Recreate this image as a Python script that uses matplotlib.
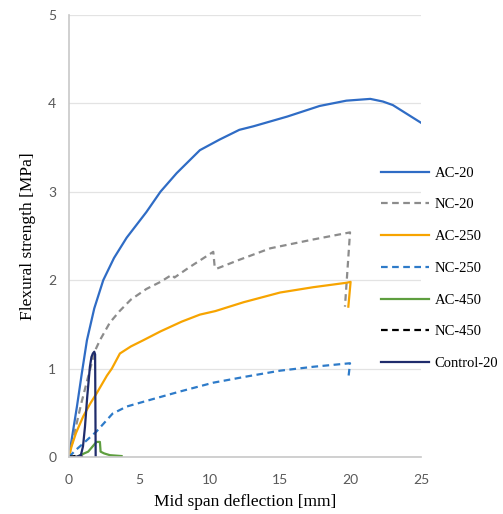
import matplotlib
matplotlib.use("Agg")
import matplotlib.pyplot as plt

# deflection [mm] / flexural strength [MPa]
ac20_x = [0, 0.3, 0.57, 0.92, 1.28, 1.8, 2.44, 3.2, 4.1, 5.5, 6.5, 7.65, 9.3, 10.7,
          12.1, 13.1, 15.5, 17.8, 19.7, 21.4, 22.3, 23.0, 23.5, 24.2, 25.0]
ac20_y = [0, 0.3, 0.57, 0.95, 1.32, 1.68, 2.0, 2.25, 2.48, 2.77, 3.0, 3.21, 3.47, 3.59,
          3.70, 3.74, 3.85, 3.97, 4.03, 4.05, 4.02, 3.98, 3.93, 3.86, 3.78]

nc20_x = [0, 0.9, 1.37, 1.85, 2.2, 2.91, 3.6, 4.4, 5.5, 6.5, 7.3, 7.5, 8.5, 10.25,
          10.35, 10.5, 12.1, 14.3, 17.35, 19.96, 19.6]
nc20_y = [0, 0.62, 0.91, 1.2, 1.32, 1.52, 1.65, 1.78, 1.9, 1.98, 2.06, 2.03, 2.14, 2.32,
          2.15, 2.13, 2.23, 2.36, 2.46, 2.54, 1.70]

ac250_x = [0, 0.19, 0.5, 1.02, 1.5, 1.97, 2.7, 3.05, 3.62, 4.4, 5.28, 6.5, 8.0, 9.3,
           10.4, 12.4, 15.0, 17.35, 19.7, 20.0, 19.84]
ac250_y = [0, 0.12, 0.27, 0.46, 0.6, 0.72, 0.92, 1.0, 1.17, 1.25, 1.32, 1.42, 1.53, 1.61,
           1.65, 1.75, 1.86, 1.92, 1.97, 1.98, 1.70]

nc250_x = [0, 0.5, 1.0, 1.97, 3.1, 4.1, 5.75, 7.88, 10.25, 12.62, 15.0, 17.35, 19.96, 19.84]
nc250_y = [0, 0.08, 0.15, 0.29, 0.49, 0.57, 0.645, 0.74, 0.84, 0.91, 0.976, 1.02, 1.06, 0.89]

ac450_x = [0, 0.6, 0.8, 1.37, 1.85, 1.97, 2.2, 2.25, 2.5, 2.91, 3.74]
ac450_y = [0, 0, 0.02, 0.06, 0.15, 0.17, 0.17, 0.06, 0.04, 0.02, 0.01]

nc450_x = [0, 0.4, 0.8, 1.0]
nc450_y = [0, 0.01, 0.01, 0]

ctrl_x = [0, 0.5, 0.85, 1.0, 1.14, 1.3, 1.49, 1.6, 1.7, 1.8, 1.86, 1.88, 1.9]
ctrl_y = [0, 0, 0.02, 0.12, 0.34, 0.68, 1.02, 1.13, 1.17, 1.19, 1.16, 0.6, 0]

serif = "Liberation Serif"
dash = (3, 2)

fig = plt.figure(figsize=(5.03, 5.14), dpi=100)
ax = fig.add_axes([0.137, 0.111, 0.700, 0.860])

ax.plot(ac20_x, ac20_y, color="#2F6CC5", lw=1.6, label="AC-20")
ax.plot(nc20_x, nc20_y, color="#8C8C8C", lw=1.6, dashes=dash, label="NC-20")
ax.plot(ac250_x, ac250_y, color="#F7A400", lw=1.6, label="AC-250")
ax.plot(nc250_x, nc250_y, color="#2E7BC9", lw=1.6, dashes=dash, label="NC-250")
ax.plot(ac450_x, ac450_y, color="#5E9E3F", lw=1.6, label="AC-450")
ax.plot(nc450_x, nc450_y, color="black", lw=1.6, dashes=dash, label="NC-450")
ax.plot(ctrl_x, ctrl_y, color="#1F2C6C", lw=1.6, label="Control-20")

ax.set_xlim(0, 25)
ax.set_ylim(0, 5)
ax.set_xticks([0, 5, 10, 15, 20, 25])
ax.set_yticks([0, 1, 2, 3, 4, 5])
ax.grid(axis="y", color="#E3E3E3", lw=0.9)
ax.set_axisbelow(True)
for s in ["top", "right"]:
    ax.spines[s].set_visible(False)
for s in ["left", "bottom"]:
    ax.spines[s].set_color("#C8C8C8")
    ax.spines[s].set_linewidth(1.2)
ax.tick_params(length=0, labelsize=10, labelcolor="#595959")
ax.tick_params(axis="y", pad=9)
ax.tick_params(axis="x", pad=12)
for lab in ax.get_xticklabels() + ax.get_yticklabels():
    lab.set_fontfamily("Lato")

ax.set_xlabel("Mid span deflection [mm]", family=serif, fontsize=12.5, labelpad=6)
ax.set_ylabel("Flexural strength [MPa]", family=serif, fontsize=12.5, labelpad=9)

fig.legend(loc="upper left", bbox_to_anchor=(0.757, 0.676), frameon=False,
           prop={"family": serif, "size": 10.5}, handlelength=3.3,
           handletextpad=0.4, labelspacing=1.27, borderpad=0, borderaxespad=0)

fig.savefig("out.png", dpi=100)
